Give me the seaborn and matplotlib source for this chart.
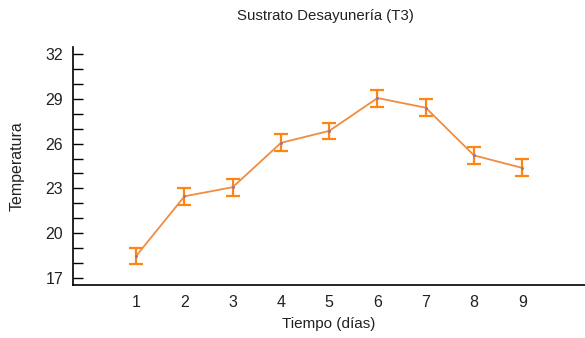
import numpy as np
import pandas as pd
import matplotlib
matplotlib.use("Agg")
import matplotlib.pyplot as plt
import seaborn as sns
from matplotlib.ticker import MultipleLocator

# Mean temperature per day with interval half-widths
dias = [1, 2, 3, 4, 5, 6, 7, 8, 9]
temperatura = [18.48, 22.47, 23.08, 26.05, 26.85, 29.05, 28.40, 25.21, 24.37]
error = [0.55, 0.56, 0.58, 0.56, 0.56, 0.57, 0.58, 0.59, 0.57]
y_ticks = [17, 20, 23, 26, 29, 32]

titulo = "Sustrato Desayunería (T3)"
etiqueta_x = "Tiempo (días)"
etiqueta_y = "Temperatura"

sns.set_theme(style="white")
plt.rcParams["font.family"] = ["Liberation Sans", "DejaVu Sans"]

df = pd.DataFrame({"dia": dias, "temp": temperatura, "err": error})

fig = plt.figure(figsize=(5.85, 3.38), dpi=100)
ax = fig.add_axes([73 / 585, 1 - 285 / 338, 1 - 73 / 585, (285 - 46.5) / 338])

line_color = "#F08C40"
bar_color = "#FF8410"

ax.errorbar(df["dia"], df["temp"], yerr=df["err"], fmt="none",
            ecolor=bar_color, elinewidth=1.6, capsize=5.2, capthick=1.6, zorder=2)
sns.lineplot(data=df, x="dia", y="temp", ax=ax, color=line_color,
             linewidth=1.3, marker="o", markersize=2.2,
             markerfacecolor="#A070A0", markeredgewidth=0, zorder=3)

ax.set_xlim(-0.31, 10.3)
ax.set_ylim(16.53, 32.5)
ax.set_xticks(dias)
ax.set_xticklabels([str(d) for d in dias])
ax.set_yticks(y_ticks)
ax.yaxis.set_minor_locator(MultipleLocator(1))

for side in ["top", "right"]:
    ax.spines[side].set_visible(False)
for side in ["left", "bottom"]:
    ax.spines[side].set_color("black")
    ax.spines[side].set_linewidth(1.2)

ax.tick_params(axis="y", which="both", direction="in", length=7, width=1,
               color="black", left=True, pad=7, labelsize=11.5, labelcolor="#222222")
ax.tick_params(axis="x", length=0, pad=7, labelsize=11.5, labelcolor="#222222")

ax.set_xlabel(etiqueta_x, fontsize=11, color="#222222", labelpad=5)
ax.set_ylabel(etiqueta_y, fontsize=11.5, color="#222222", labelpad=15)
fig.text(0.556, 1 - 16 / 338, titulo, ha="center", va="center", fontsize=10.8, color="#222222")

fig.savefig("out.png", dpi=100)
